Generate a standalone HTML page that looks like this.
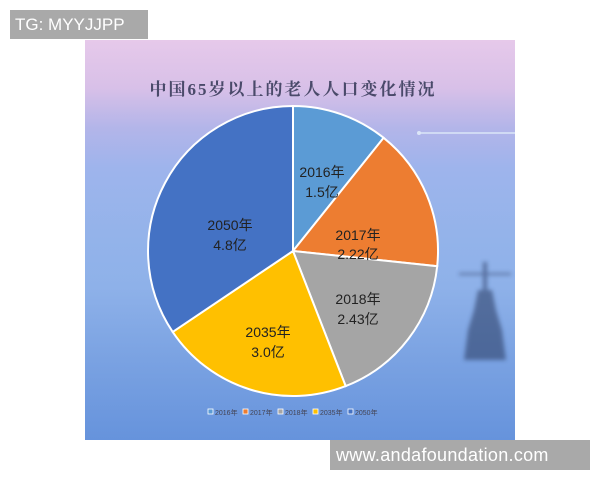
<!DOCTYPE html>
<html><head><meta charset="utf-8"><style>
body{margin:0;width:600px;height:480px;background:#fff;position:relative;overflow:hidden;font-family:"Liberation Sans","Noto Sans CJK SC",sans-serif}
#img{position:absolute;left:85px;top:40px;width:430px;height:400px;background:linear-gradient(180deg,#e6c9ea 0%,#d8c0e8 12%,#b3b5e9 22%,#9eb4ec 32%,#93b3ea 50%,#8eb1e9 62%,#7aa2e2 80%,#6693dc 100%)}
.tg{position:absolute;left:10px;top:10px;width:138px;height:29px;background:#a9a9a9;color:#fff;font-size:17px;line-height:29px;padding-left:5px;box-sizing:border-box}
.url{position:absolute;left:330px;top:440px;width:260px;height:30px;background:#a9a9a9;color:#fff;font-size:18px;line-height:30px;padding-left:6px;box-sizing:border-box;letter-spacing:0.3px}
</style></head><body>
<div id="img"></div>
<svg width="600" height="480" style="position:absolute;left:0;top:0">
<defs><filter id="b"><feGaussianBlur stdDeviation="2"/></filter></defs>
<line x1="418" y1="133" x2="515" y2="133" stroke="#dbe6f8" stroke-width="1.5"/>
<circle cx="419" cy="133" r="2" fill="#dbe6f8"/>
<g fill="#27375e" opacity="0.55" filter="url(#b)">
<rect x="459" y="273" width="52" height="2"/>
<rect x="483" y="262" width="4" height="30"/>
<path d="M478 290 L492 290 L496 310 L502 330 L506 360 L464 360 L468 330 L474 310Z"/>
</g>
<text x="293" y="95" text-anchor="middle" font-family="Liberation Serif,Noto Serif CJK SC,serif" font-size="17" font-weight="bold" fill="#4a4a6a" letter-spacing="2">中国65岁以上的老人人口变化情况</text>
<g stroke="#fff" stroke-width="2">
<path d="M293 251 L293 106 A145 145 0 0 1 383.6 137.8Z" fill="#5b9bd5"/>
<path d="M293 251 L383.6 137.8 A145 145 0 0 1 437.2 266.2Z" fill="#ed7d31"/>
<path d="M293 251 L437.2 266.2 A145 145 0 0 1 345.7 386.1Z" fill="#a5a5a5"/>
<path d="M293 251 L345.7 386.1 A145 145 0 0 1 172.7 331.9Z" fill="#ffc000"/>
<path d="M293 251 L172.7 331.9 A145 145 0 0 1 293 106Z" fill="#4472c4"/>
</g>
<g font-size="14" fill="#222" text-anchor="middle">
<text x="322" y="177">2016年</text><text x="322" y="197">1.5亿</text>
<text x="358" y="240">2017年</text><text x="358" y="259">2.22亿</text>
<text x="358" y="304">2018年</text><text x="358" y="324">2.43亿</text>
<text x="268" y="337">2035年</text><text x="268" y="357">3.0亿</text>
<text x="230" y="230">2050年</text><text x="230" y="250">4.8亿</text>
</g>
<g font-size="7" fill="#445">
<rect x="208" y="409" width="5" height="5" fill="#5b9bd5" stroke="#fff" stroke-width=".8"/><text x="215" y="415">2016年</text>
<rect x="243" y="409" width="5" height="5" fill="#ed7d31" stroke="#fff" stroke-width=".8"/><text x="250" y="415">2017年</text>
<rect x="278" y="409" width="5" height="5" fill="#a5a5a5" stroke="#fff" stroke-width=".8"/><text x="285" y="415">2018年</text>
<rect x="313" y="409" width="5" height="5" fill="#ffc000" stroke="#fff" stroke-width=".8"/><text x="320" y="415">2035年</text>
<rect x="348" y="409" width="5" height="5" fill="#4472c4" stroke="#fff" stroke-width=".8"/><text x="355" y="415">2050年</text>
</g>
</svg>
<div class="tg">TG: MYYJJPP</div>
<div class="url">www.andafoundation.com</div>
</body></html>
